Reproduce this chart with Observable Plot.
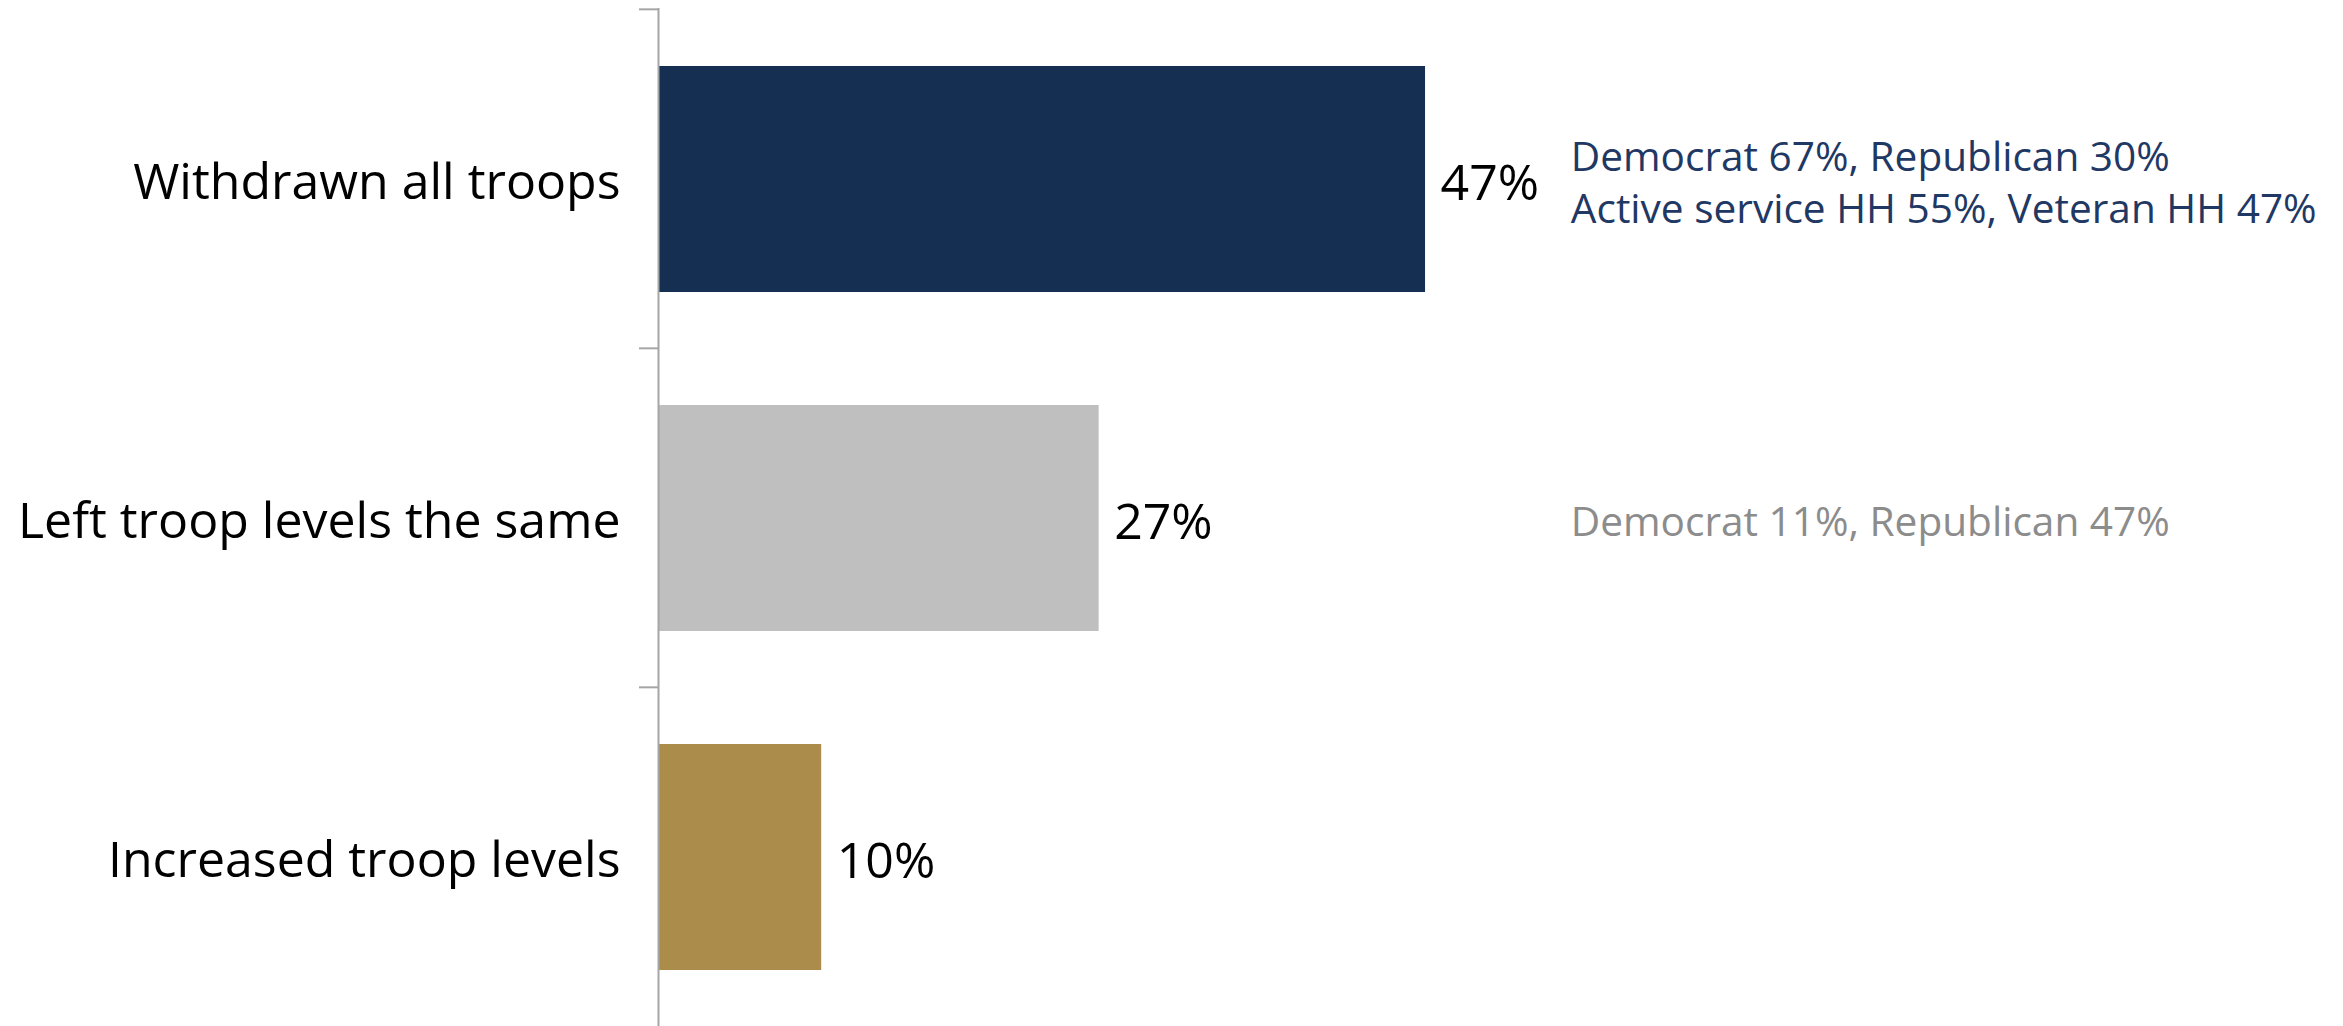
<!DOCTYPE html>
<html>
<head>
<meta charset="utf-8">
<script src="https://cdn.jsdelivr.net/npm/d3@7"></script>
<script src="https://cdn.jsdelivr.net/npm/@observablehq/plot@0.6"></script>
<style>
  html, body { margin: 0; padding: 0; background: #fff; }
  svg { display: block; }
</style>
</head>
<body>
<div id="chart"></div>
<script>
const categories = ["Withdrawn all troops", "Left troop levels the same", "Increased troop levels"];
const values = [47, 27, 10];
const barColors = ["#152F52", "#BFBFBF", "#AB8C4A"];
const notes = [
  "Democrat 67%, Republican 30%\nActive service HH 55%, Veteran HH 47%",
  "Democrat 11%, Republican 47%",
  ""
];
const noteColors = ["#1F3864", "#8C8C8C", "#8C8C8C"];

const data = categories.map((c, i) => ({cat: c, value: values[i], color: barColors[i], note: notes[i], noteColor: noteColors[i]}));

const W = 2343, H = 1026;
const marginTop = 8, marginBottom = 0, marginLeft = 658, marginRight = 53;
const step = (H - marginTop - marginBottom) / categories.length;
const font = "'Open Sans', 'Noto Sans', sans-serif";

const chart = Plot.plot({
  width: W,
  height: H,
  marginTop, marginBottom, marginLeft, marginRight,
  style: {fontFamily: font, background: "#fff", overflow: "visible"},
  x: {domain: [0, 100], axis: null},
  y: {domain: categories, padding: 0, label: null},
  marks: [
    Plot.barX(data, {x: "value", y: "cat", fill: "color", insetTop: 57, insetBottom: 56}),
    Plot.ruleX([0], {stroke: "#A6A6A6", strokeWidth: 2}),
    Plot.axisY({tickSize: 19, stroke: "#A6A6A6", strokeWidth: 2, text: null, dy: -step / 2, label: null}),
    Plot.axisY({tickSize: 0, tickPadding: 38, fontSize: 50, fill: "#000", dy: 4, label: null}),
    Plot.text(data, {x: "value", y: "cat", text: d => d.value + "%", textAnchor: "start", dx: 15, dy: 5, fontSize: 50, fill: "#000"}),
    Plot.text(data, {x: () => 55.9, y: "cat", text: "note", textAnchor: "start", fontSize: 40.6, lineHeight: 1.29, dy: 1, fill: "noteColor"})
  ]
});
document.getElementById("chart").appendChild(chart);
</script>
</body>
</html>
